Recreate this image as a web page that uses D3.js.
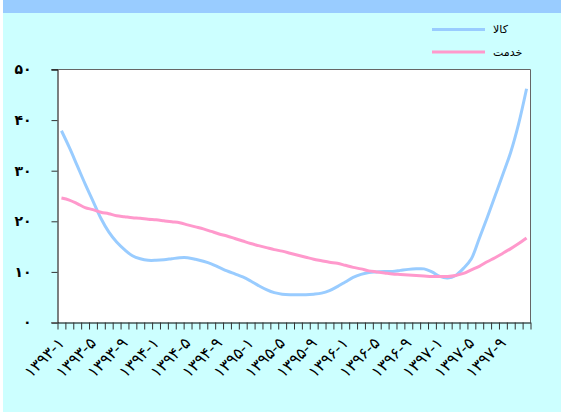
<!DOCTYPE html>
<html>
<head>
<meta charset="utf-8">
<script src="https://cdn.jsdelivr.net/npm/d3@7"></script>
<style>
  body { margin: 0; background: #ccffff; }
  svg { display: block; }
  text { font-family: "DejaVu Sans", sans-serif; }
</style>
</head>
<body>
<svg id="chart" width="561" height="412"></svg>
<script>
// data
const years = ["۱۳۹۳", "۱۳۹۴", "۱۳۹۵", "۱۳۹۶", "۱۳۹۷"];
const monthNums = ["۱", "۲", "۳", "۴", "۵", "۶", "۷", "۸", "۹", "۱۰", "۱۱", "۱۲"];
const categories = [];
years.forEach(y => monthNums.forEach(m => categories.push(y + "-" + m)));

// کالا
const kala = [37.9, 34.6, 31.0, 27.4, 24.0, 20.6, 17.9, 15.9, 14.4, 13.2,
              12.6, 12.3, 12.3, 12.4, 12.6, 12.8, 12.8, 12.5, 12.1, 11.6,
              10.9, 10.2, 9.6, 9.0, 8.2, 7.3, 6.5, 5.9, 5.6, 5.5,
              5.5, 5.5, 5.6, 5.8, 6.3, 7.1, 8.0, 8.9, 9.5, 9.9,
              10.0, 10.1, 10.1, 10.3, 10.5, 10.6, 10.6, 10.0, 9.1, 8.8,
              9.3, 10.7, 12.6, 16.6, 20.7, 25.0, 29.3, 33.7, 39.3, 46.2];
// خدمت
const khedmat = [24.6, 24.2, 23.5, 22.7, 22.3, 21.8, 21.5, 21.1, 20.9, 20.7,
                 20.6, 20.4, 20.3, 20.1, 19.9, 19.7, 19.3, 18.9, 18.5, 18.0,
                 17.5, 17.1, 16.6, 16.1, 15.6, 15.2, 14.8, 14.4, 14.1, 13.7,
                 13.3, 12.9, 12.5, 12.2, 11.9, 11.7, 11.3, 10.9, 10.6, 10.2,
                 10.0, 9.8, 9.6, 9.5, 9.4, 9.3, 9.2, 9.1, 9.1, 9.1,
                 9.3, 9.7, 10.4, 11.1, 12.0, 12.8, 13.7, 14.6, 15.6, 16.7];

const tickLabels = ["۱۳۹۳-۱", "۱۳۹۳-۵", "۱۳۹۳-۹", "۱۳۹۴-۱", "۱۳۹۴-۵", "۱۳۹۴-۹",
                    "۱۳۹۵-۱", "۱۳۹۵-۵", "۱۳۹۵-۹", "۱۳۹۶-۱", "۱۳۹۶-۵", "۱۳۹۶-۹",
                    "۱۳۹۷-۱", "۱۳۹۷-۵", "۱۳۹۷-۹"];
const yTicks = [0, 10, 20, 30, 40, 50];
const yTickLabels = ["۰", "۱۰", "۲۰", "۳۰", "۴۰", "۵۰"];

const seriesNames = ["کالا", "خدمت"];
const colors = ["#99ccff", "#ff99cc"];

const svg = d3.select("#chart");
const pLeft = 57.5, pRight = 530.5, pTop = 69.5, pBottom = 322.5;

// background bits
svg.append("rect").attr("x", 0).attr("y", 0).attr("width", 561).attr("height", 412).attr("fill", "#ccffff");
svg.append("rect").attr("x", 0).attr("y", 0).attr("width", 3).attr("height", 412).attr("fill", "#ffffff");
svg.append("rect").attr("x", 3).attr("y", 0).attr("width", 558).attr("height", 13).attr("fill", "#99ccff");
svg.append("rect").attr("x", pLeft).attr("y", pTop).attr("width", pRight - pLeft).attr("height", pBottom - pTop).attr("fill", "#ffffff");

const x = d3.scaleBand().domain(categories).range([pLeft, pRight]);
const xEdge = d3.scaleLinear().domain([0, categories.length]).range([pLeft, pRight]);
const y = d3.scaleLinear().domain([0, 50]).range([pBottom, pTop]);

// frame top / right
svg.append("line").attr("x1", pLeft - 6).attr("x2", pRight).attr("y1", pTop).attr("y2", pTop).attr("stroke", "#666");
svg.append("line").attr("x1", pRight).attr("x2", pRight).attr("y1", pTop).attr("y2", pBottom).attr("stroke", "#666");

// y axis
const yAxis = svg.append("g").attr("transform", `translate(${pLeft},0)`)
  .call(d3.axisLeft(y).tickValues(yTicks).tickSize(6).tickPadding(20)
    .tickFormat((d, i) => yTickLabels[i]));
yAxis.select(".domain").attr("stroke", "#000");
yAxis.selectAll(".tick line").attr("stroke", "#333");
yAxis.selectAll("text").attr("font-size", 14).attr("font-weight", "bold").attr("fill", "#000")
  .attr("font-family", "DejaVu Sans");

// x axis (ticks on category edges)
const xAxis = svg.append("g").attr("transform", `translate(0,${pBottom})`)
  .call(d3.axisBottom(xEdge).tickValues(d3.range(categories.length + 1)).tickSize(7).tickSizeOuter(0).tickFormat(""));
xAxis.select(".domain").attr("stroke", "#000");
xAxis.selectAll(".tick line").attr("stroke", "#333");
svg.append("line").attr("x1", pLeft - 6).attr("x2", pLeft).attr("y1", pBottom).attr("y2", pBottom).attr("stroke", "#666");

// x labels every 4 months
const labelCats = categories.filter((c, i) => i % 4 === 0);
svg.append("g").selectAll("text").data(labelCats).enter().append("text")
  .attr("transform", d => `translate(${x(d) + x.bandwidth() / 2 + 4},${344}) rotate(-45)`)
  .attr("text-anchor", "end")
  .attr("font-size", 16)
  .attr("letter-spacing", 1.5)
  .attr("fill", "#000")
  .text((d, i) => tickLabels[i]);

// lines
const line = d3.line()
  .x((d, i) => x(categories[i]) + x.bandwidth() / 2)
  .y(d => y(d))
  .curve(d3.curveCatmullRom);

[kala, khedmat].forEach((s, k) => {
  svg.append("path").datum(s).attr("d", line)
    .attr("fill", "none").attr("stroke", colors[k]).attr("stroke-width", 3);
});

// legend
const legend = svg.append("g");
seriesNames.forEach((name, k) => {
  const ly = 29.5 + k * 22.5;
  legend.append("line").attr("x1", 432).attr("x2", 485).attr("y1", ly).attr("y2", ly)
    .attr("stroke", colors[k]).attr("stroke-width", 3);
  legend.append("text").attr("x", 493).attr("y", ly).attr("dy", "0.35em")
    .attr("font-size", 11).attr("fill", "#000").text(name);
});
</script>
</body>
</html>
